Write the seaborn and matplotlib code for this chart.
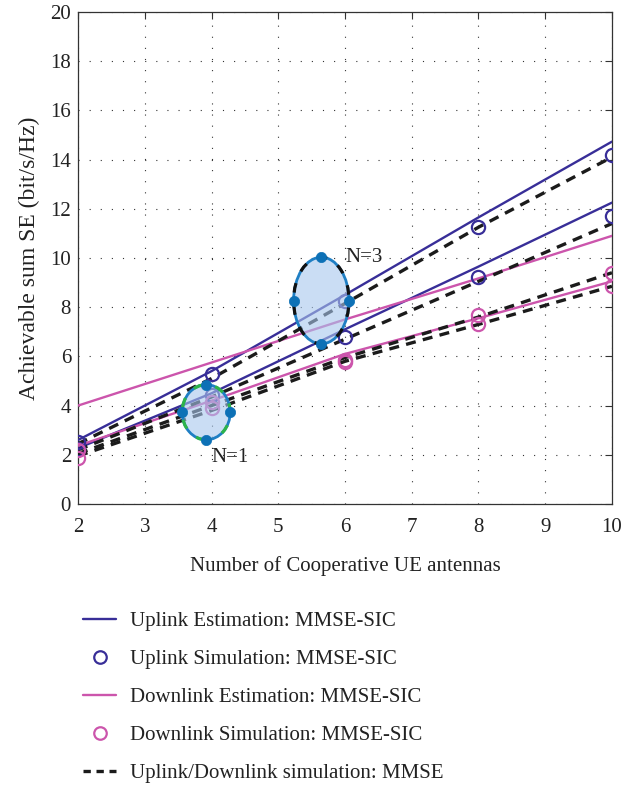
import matplotlib
matplotlib.use("Agg")
import matplotlib.pyplot as plt
import seaborn as sns
from matplotlib.patches import Ellipse
from matplotlib.lines import Line2D

# ---------------- data ----------------
antennas = [2, 4, 6, 8, 10]

ul_est_a = [2.6, 5.4, 8.5, 11.65, 14.73]
ul_est_b = [2.27, 4.5, 7.1, 9.65, 12.25]
dl_est_a = [4.0, 5.75, 7.5, 9.17, 10.9]
dl_est_b = [2.37, 4.2, 6.1, 7.55, 9.05]

ul_sim_a = [2.53, 5.28, 8.27, 11.27, 14.2]
ul_sim_b = [2.24, 4.42, 6.77, 9.21, 11.7]
dl_sim_a = [2.2, 4.16, 5.85, 7.68, 9.40]
dl_sim_b = [1.86, 3.89, 5.79, 7.32, 8.86]

mmse_1 = [2.45, 5.1, 8.15, 11.25, 14.1]
mmse_2 = [2.2, 4.35, 6.7, 9.05, 11.4]
mmse_3 = [2.05, 4.0, 5.95, 7.6, 9.4]
mmse_4 = [1.95, 3.8, 5.8, 7.3, 8.85]

ellipse_labels = ["N=1", "N=3"]
ellipse_cx = [3.92, 5.645]
ellipse_cy = [3.73, 8.27]
ellipse_rx = [0.36, 0.415]
ellipse_ry = [1.12, 1.76]
ellipse_dash_colors = ["#2db34a", "#111111"]
label_pos_x = [4.0, 6.0]
label_pos_y = [1.87, 10.0]

x_ticks = [2, 3, 4, 5, 6, 7, 8, 9, 10]
y_ticks = [0, 2, 4, 6, 8, 10, 12, 14, 16, 18, 20]

legend_labels = [
    "Uplink Estimation: MMSE-SIC",
    "Uplink Simulation: MMSE-SIC",
    "Downlink Estimation: MMSE-SIC",
    "Downlink Simulation: MMSE-SIC",
    "Uplink/Downlink simulation: MMSE",
]

# ---------------- style ----------------
sns.set_theme(style="white")
plt.rcParams["font.family"] = ["Liberation Serif", "DejaVu Serif"]
plt.rcParams["font.size"] = 15

UL = "#382e98"
DL = "#cc55ac"
DASH = "#1b1b1b"
EDGE = "#1f7fc4"
DOT = "#0d71b6"

fig = plt.figure(figsize=(6.38, 7.87), dpi=100)
ax = fig.add_axes([0.1223, 0.3596, 0.8369, 0.6252])

dash_style = (0, (3.0, 2.2))

for vals in (ul_est_a, ul_est_b):
    sns.lineplot(x=antennas, y=vals, ax=ax, color=UL, lw=1.7,
                 estimator=None, sort=False, legend=False, zorder=3)
for vals in (dl_est_a, dl_est_b):
    sns.lineplot(x=antennas, y=vals, ax=ax, color=DL, lw=1.7,
                 estimator=None, sort=False, legend=False, zorder=3)
for vals in (mmse_1, mmse_2, mmse_3, mmse_4):
    sns.lineplot(x=antennas, y=vals, ax=ax, color=DASH, lw=2.4,
                 linestyle=dash_style, estimator=None, sort=False,
                 legend=False, zorder=4)
for vals in (ul_sim_a, ul_sim_b):
    sns.lineplot(x=antennas, y=vals, ax=ax, color=UL, linestyle="none",
                 marker="o", markersize=9.5, markerfacecolor="none",
                 markeredgecolor=UL, markeredgewidth=1.6,
                 estimator=None, sort=False, legend=False, zorder=5)
for vals in (dl_sim_a, dl_sim_b):
    sns.lineplot(x=antennas, y=vals, ax=ax, color=DL, linestyle="none",
                 marker="o", markersize=9.5, markerfacecolor="none",
                 markeredgecolor=DL, markeredgewidth=1.6,
                 estimator=None, sort=False, legend=False, zorder=5)

# ellipses
for lab, cx, cy, rx, ry, dc, tx, ty in zip(ellipse_labels, ellipse_cx, ellipse_cy,
                                           ellipse_rx, ellipse_ry, ellipse_dash_colors,
                                           label_pos_x, label_pos_y):
    ax.add_patch(Ellipse((cx, cy), 2 * rx, 2 * ry, facecolor=(0.66, 0.78, 0.93),
                         alpha=0.6, edgecolor="none", zorder=6))
    ax.add_patch(Ellipse((cx, cy), 2 * rx, 2 * ry, facecolor="none",
                         edgecolor=EDGE, lw=2.0, zorder=7))
    ax.add_patch(Ellipse((cx, cy), 2 * rx, 2 * ry, facecolor="none",
                         edgecolor=dc, lw=2.3, linestyle=(1.5, (3.0, 4.0)), zorder=7))
    px = [cx, cx - rx, cx + rx, cx]
    py = [cy + ry, cy, cy, cy - ry]
    sns.scatterplot(x=px, y=py, ax=ax, color=DOT, s=55, edgecolor=DOT,
                    linewidth=0.5, legend=False, zorder=8)
    ax.text(tx, ty, lab, ha="left", va="center", fontsize=15, color="#222222",
            zorder=9)

# axes cosmetics
ax.set_xlim(2, 10)
ax.set_ylim(0, 20)
ax.set_xticks(x_ticks)
ax.set_yticks(y_ticks)
ax.grid(True, color="#333333", lw=0.8, linestyle=(0, (1.0, 9.0)))
ax.set_axisbelow(True)
for sp in ax.spines.values():
    sp.set_visible(True)
    sp.set_color("#333333")
    sp.set_linewidth(0.9)
ax.tick_params(direction="in", top=True, right=True, length=5, width=0.8,
               color="#333333", labelsize=15, labelcolor="#222222")
ax.tick_params(axis="x", pad=10)
ax.tick_params(axis="y", pad=5)
ax.set_xlabel("Number of Cooperative UE antennas", fontsize=15, color="#222222",
              labelpad=14)
ax.set_ylabel("Achievable sum SE (bit/s/Hz)", fontsize=17, color="#222222",
              labelpad=7)

# legend
handles = [
    Line2D([], [], color=UL, lw=1.7),
    Line2D([], [], color=UL, linestyle="none", marker="o", markersize=9,
           markerfacecolor="none", markeredgewidth=1.6),
    Line2D([], [], color=DL, lw=1.7),
    Line2D([], [], color=DL, linestyle="none", marker="o", markersize=9,
           markerfacecolor="none", markeredgewidth=1.6),
    Line2D([], [], color=DASH, lw=2.4, linestyle=(0, (2.2, 1.7))),
]
leg = fig.legend(handles, legend_labels, loc="upper left",
                 bbox_to_anchor=(0.13, 0.2226), frameon=False, fontsize=15,
                 handlelength=1.6, handletextpad=0.65, labelspacing=0.88,
                 borderaxespad=0, borderpad=0)
for t in leg.get_texts():
    t.set_color("#222222")

fig.savefig("out.png", dpi=100)
